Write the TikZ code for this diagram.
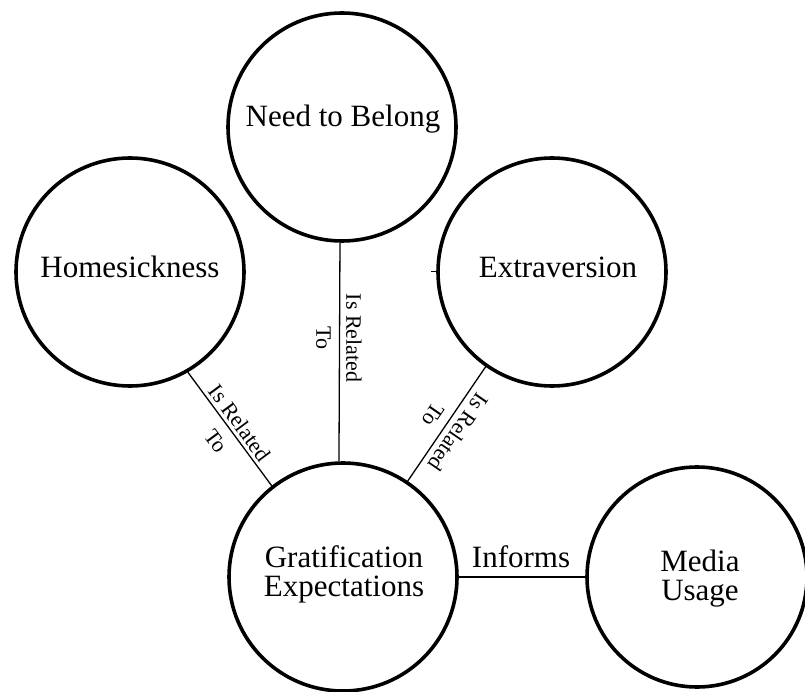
\documentclass[tikz,border=0pt]{standalone}
\usepackage{fontspec}
\setmainfont{Liberation Serif}
\usetikzlibrary{calc}
\begin{document}
\begin{tikzpicture}[x=1pt,y=-1pt,
  bubble/.style={circle,draw,line width=3.6pt,inner sep=0pt,minimum size=#1},
  bubble/.default=228pt,
  title/.style={font=\fontsize{31}{29}\selectfont,inner sep=0pt,anchor=base,align=center},
  link/.style={line width=1.3pt},
  rel/.style={font=\fontsize{22}{30}\selectfont,inner sep=0pt,align=center}]
\useasboundingbox (0,0) rectangle (805,692);

% concept circles
\node[bubble] (nb) at (342,127) {};
\node[bubble] (hs) at (130,272) {};
\node[bubble] (ex) at (552,272) {};
\node[bubble] (ge) at (343,577) {};
\node[bubble=220pt] (mu) at (697,577) {};

% circle titles
\node[title] (nbt) at (343,127) {Need to Belong};
\node[title] (hst) at (130,278) {Homesickness};
\node[title] (ext) at (558,278) {Extraversion};
\node[title] (get) at (344,596) {Gratification\\Expectations};
\node[title] (mut) at (700,600) {Media\\Usage};

% relations
\draw[link] (nb.-91.5) -- (ge.92);
\draw[link] (hs.-60) -- (ge.128);
\draw[link] (ex.235) -- (ge.56);
\draw[link] (ge.east) -- (ge.east -| mu.west);
\coordinate (stub) at ($(ex.west)+(-5,0)$);
\draw[line width=1pt] (ex.west) -- (stub);

% relation labels
\node[rel,rotate=-90] (l1) at (339,338) {Is Related\\To};
\node[rel,rotate=-53.6] (l2) at (228,432) {Is Related\\To};
\node[rel,rotate=-124.5] (l3) at (446,424) {Is Related\\To};
\node[title] (inf) at (521,567) {Informs};
\end{tikzpicture}
\end{document}
